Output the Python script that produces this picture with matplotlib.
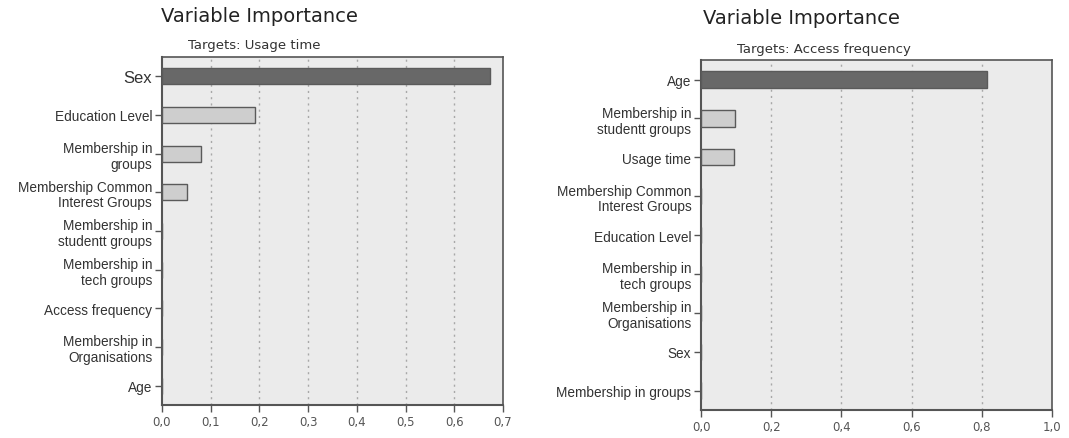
# Variable Importance - two panels
import matplotlib.pyplot as plt

# 데이터
usage_labels = ['Sex', 'Education Level', 'Membership in\ngroups',
                'Membership Common\nInterest Groups', 'Membership in\nstudentt groups',
                'Membership in\ntech groups', 'Access frequency',
                'Membership in\nOrganisations', 'Age']
usage_values = [0.673, 0.192, 0.08, 0.051, 0, 0, 0, 0, 0]

access_labels = ['Age', 'Membership in\nstudentt groups', 'Usage time',
                 'Membership Common\nInterest Groups', 'Education Level',
                 'Membership in\ntech groups', 'Membership in\nOrganisations',
                 'Sex', 'Membership in groups']
access_values = [0.815, 0.097, 0.094, 0, 0, 0, 0, 0, 0]

usage_ticks = [0.0, 0.1, 0.2, 0.3, 0.4, 0.5, 0.6, 0.7]
access_ticks = [0.0, 0.2, 0.4, 0.6, 0.8, 1.0]

fig = plt.figure(figsize=(10.69, 4.39), dpi=100)
ax1 = fig.add_axes([0.1515, 0.0752, 0.319, 0.7927])
ax2 = fig.add_axes([0.6558, 0.0638, 0.3283, 0.797])


def draw(ax, labels, values, ticks, sex_big=False):
    ax.set_facecolor('#ebebeb')
    pos = list(range(len(labels)))
    colors = ['#686868'] + ['#cecece'] * (len(labels) - 1)
    ax.barh(pos, values, height=0.42, color=colors, edgecolor='#5a5a5a', linewidth=1, zorder=3)
    ax.set_ylim(len(labels) - 0.5, -0.5)
    ax.set_xlim(ticks[0], ticks[-1])
    ax.set_yticks(pos)
    ax.set_yticklabels(labels, fontsize=9.8, family='Liberation Sans', color='#333333', ha='right',
                       linespacing=1.15)
    if sex_big:
        ax.get_yticklabels()[0].set_fontsize(12)
    ax.set_xticks(ticks)
    ax.set_xticklabels([('%.1f' % t).replace('.', ',') for t in ticks], fontsize=8.5, color='#555555')
    for t in ticks[1:-1]:
        ax.axvline(t, color='#a8a8a8', linestyle=(0, (1.5, 3)), linewidth=1, zorder=1)
    for s in ax.spines.values():
        s.set_color('#555555')
        s.set_linewidth(1.5)
    ax.spines['right'].set_linewidth(1.2)
    ax.spines['top'].set_linewidth(1.2)
    ax.tick_params(axis='both', direction='out', length=5, width=1, color='#555555', pad=2)


draw(ax1, usage_labels, usage_values, usage_ticks, sex_big=True)
draw(ax2, access_labels, access_values, access_ticks)

# 타이틀
fig.text(259 / 1069, 1 - 17 / 439, 'Variable Importance', ha='center', va='center',
         fontsize=14, color='#222222')
fig.text(254 / 1069, 1 - 46 / 439, 'Targets: Usage time', ha='center', va='center',
         fontsize=9.5, color='#333333')
fig.text(801 / 1069, 1 - 19 / 439, 'Variable Importance', ha='center', va='center',
         fontsize=14, color='#222222')
fig.text(824 / 1069, 1 - 49 / 439, 'Targets: Access frequency', ha='center', va='center',
         fontsize=9.5, color='#333333')

plt.savefig('out.png', dpi=100)
